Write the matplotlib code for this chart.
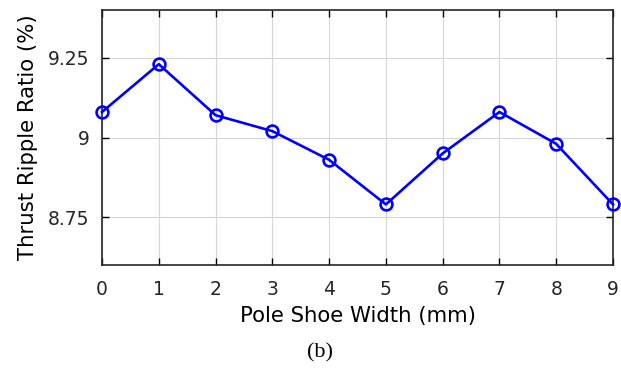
import matplotlib
matplotlib.use("Agg")
import matplotlib.pyplot as plt

x_vals = [0, 1, 2, 3, 4, 5, 6, 7, 8, 9]
ripple = [9.08, 9.23, 9.07, 9.02, 8.93, 8.79, 8.95, 9.08, 8.98, 8.79]
y_ticks = [8.75, 9.0, 9.25]
y_tick_labels = ["8.75", "9", "9.25"]

fig = plt.figure(figsize=(6.21, 3.69), dpi=100)
ax = fig.add_axes([102/621, 1-265/369, (613-102)/621, (265-10)/369])
ax.plot(x_vals, ripple, color="#0000FF", lw=1.9, marker="o", ms=8.5,
        mfc="none", mec="#0000FF", mew=1.9, clip_on=False, zorder=3)
ax.set_xlim(0, 9)
ax.set_ylim(8.6, 9.4)
ax.set_xticks(x_vals)
ax.set_yticks(y_ticks)
ax.set_yticklabels(y_tick_labels)
ax.grid(True, color="#d6d6d6", lw=0.8)
ax.tick_params(direction="in", top=True, right=True, length=5, width=1,
               labelsize=13.5, labelcolor="#262626")
ax.tick_params(axis="x", pad=11)
ax.tick_params(axis="y", pad=9)
for s in ax.spines.values():
    s.set_linewidth(1.2)
    s.set_color("#262626")
for lab in ax.get_xticklabels() + ax.get_yticklabels():
    lab.set_family("DejaVu Sans")
ax.set_xlabel("Pole Shoe Width (mm)", fontsize=15.3, family="DejaVu Sans", labelpad=5)
ax.set_ylabel("Thrust Ripple Ratio (%)", fontsize=15.3, family="DejaVu Sans", labelpad=7)
fig.text(320/621, 1-353/369, "(b)", ha="center", va="center", fontsize=16,
         family="Liberation Serif")
fig.savefig("out.png", dpi=100)
